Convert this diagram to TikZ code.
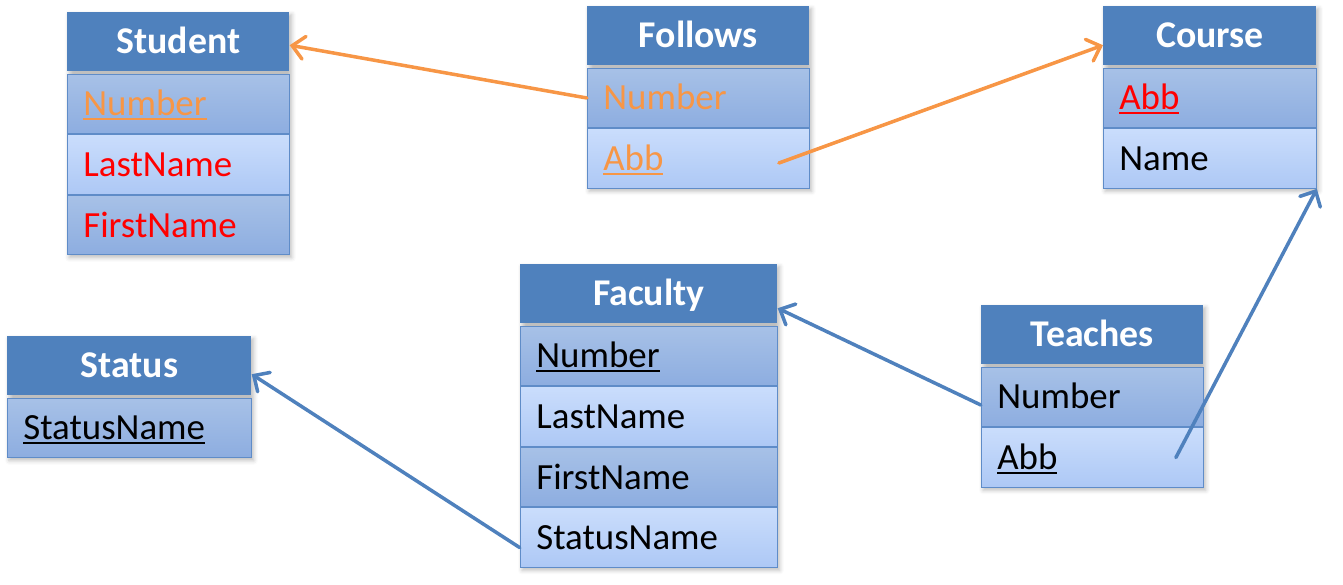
\documentclass[tikz,border=0pt]{standalone}
\usepackage{fontspec}
\setmainfont{Carlito}
\usetikzlibrary{positioning,arrows.meta,backgrounds,shadows.blur}

\definecolor{headblue}{HTML}{4F81BD}
\definecolor{rowAtop}{HTML}{A7C1E7}
\definecolor{rowAbot}{HTML}{8DADE0}
\definecolor{rowBtop}{HTML}{CADDFC}
\definecolor{rowBbot}{HTML}{ADC8F5}
\definecolor{lineblue}{HTML}{5F8CC8}
\definecolor{keyorange}{HTML}{F79646}
\definecolor{keyred}{HTML}{FF0000}

% underlined key field
\newcommand{\keyfld}[1]{\setbox0\hbox{#1}\rlap{\rule[-0.09cm]{\wd0}{0.04cm}}\box0}

\tikzset{
  cell/.style={inner xsep=0.32cm, text height=0.48cm, text depth=0pt,
    font=\fontsize{21}{25}\selectfont},
  tabhead/.style={cell, fill=headblue, text=white, font=\fontsize{21.5}{25}\selectfont\bfseries,
    align=center, minimum height=1.17cm, anchor=north west},
  rowa/.style={cell, draw=lineblue, line width=0.6pt, top color=rowAtop, bottom color=rowAbot,
    align=left, minimum height=1.19cm},
  rowb/.style={cell, draw=lineblue, line width=0.6pt, top color=rowBtop, bottom color=rowBbot,
    align=left, minimum height=1.19cm},
  fk/.style={line width=2pt, line cap=round,
    -{Straight Barb[length=0.24cm,width=0.46cm,line cap=round]}}
}

\begin{document}
\begin{tikzpicture}
  \useasboundingbox (0,0) rectangle (26.86,-11.68);

  %%%%% Student %%%%%
  \begin{scope}[nodes={text width=3.80cm}]
    \node[tabhead] (stuH) at (1.34,-0.24) {Student};
    \node[rowa, below=0.05cm of stuH] (stu1) {\color{keyorange}\keyfld{Number}};
    \node[rowb, below=0pt of stu1] (stu2) {\color{keyred}LastName};
    \node[rowa, below=0pt of stu2] (stu3) {\color{keyred}FirstName};
  \end{scope}

  %%%%% Follows %%%%%
  \begin{scope}[nodes={text width=3.80cm}]
    \node[tabhead] (folH) at (11.74,-0.12) {Follows};
    \node[rowa, below=0.05cm of folH] (fol1) {\color{keyorange}Number};
    \node[rowb, below=0pt of fol1] (fol2) {\color{keyorange}\keyfld{Abb}};
  \end{scope}

  %%%%% Course %%%%%
  \begin{scope}[nodes={text width=3.62cm}]
    \node[tabhead] (couH) at (22.06,-0.12) {Course};
    \node[rowa, below=0.05cm of couH] (cou1) {\color{keyred}\keyfld{Abb}};
    \node[rowb, below=0pt of cou1] (cou2) {Name};
  \end{scope}

  %%%%% Status %%%%%
  \begin{scope}[nodes={text width=4.24cm}]
    \node[tabhead] (staH) at (0.14,-6.72) {Status};
    \node[rowa, below=0.05cm of staH] (sta1) {\keyfld{StatusName}};
  \end{scope}

  %%%%% Faculty %%%%%
  \begin{scope}[nodes={text width=4.50cm}]
    \node[tabhead] (facH) at (10.40,-5.28) {Faculty};
    \node[rowa, below=0.05cm of facH] (fac1) {\keyfld{Number}};
    \node[rowb, below=0pt of fac1] (fac2) {LastName};
    \node[rowa, below=0pt of fac2] (fac3) {FirstName};
    \node[rowb, below=0pt of fac3] (fac4) {StatusName};
  \end{scope}

  %%%%% Teaches %%%%%
  \begin{scope}[nodes={text width=3.80cm}]
    \node[tabhead] (teaH) at (19.62,-6.10) {Teaches};
    \node[rowa, below=0.05cm of teaH] (tea1) {Number};
    \node[rowb, below=0pt of tea1] (tea2) {\keyfld{Abb}};
  \end{scope}

  % soft shadows
  \begin{scope}[on background layer]
    \foreach \top/\bot in {stuH/stu3, folH/fol2, couH/cou2, staH/sta1, facH/fac4, teaH/tea2}
      \path[blur shadow={shadow xshift=0.04cm, shadow yshift=-0.05cm,
        shadow blur radius=0.08cm, shadow opacity=25}]
        (\top.north west) rectangle (\bot.south east);
  \end{scope}

  % free ends inside rows
  \coordinate (folAbb) at ([xshift=-0.62cm, yshift=-0.09cm]fol2.east);
  \coordinate (teaAbb) at ([xshift=-0.56cm]tea2.east);

  %%%%% links %%%%%
  \draw[fk, keyorange] (fol1.west) -- ([yshift=0.52cm]stuH.south east);
  \draw[fk, keyorange] (folAbb) -- ([yshift=0.40cm]couH.south west);
  \draw[fk, headblue] ([yshift=-0.16cm]tea1.west) -- ([yshift=0.30cm]facH.south east);
  \draw[fk, headblue] (teaAbb) -- (cou2.south east);
  \draw[fk, headblue] ([yshift=-0.20cm]fac4.west) -- ([yshift=0.42cm]staH.south east);
\end{tikzpicture}
\end{document}
